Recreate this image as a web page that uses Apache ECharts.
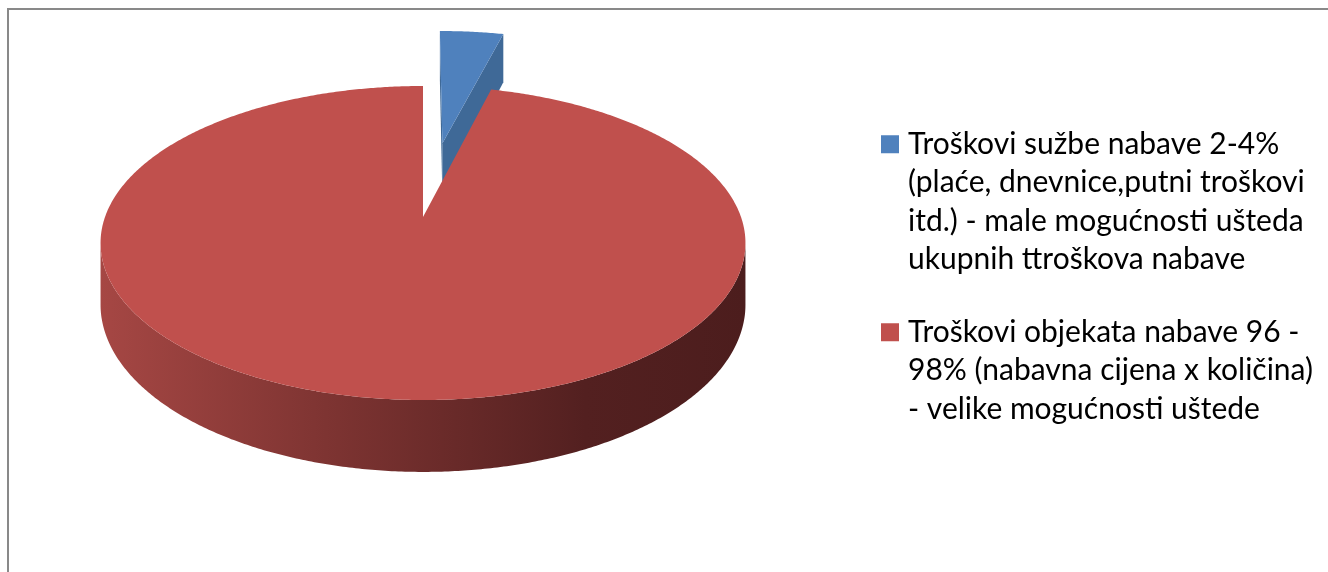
<!DOCTYPE html>
<html>
<head>
<meta charset="utf-8">
<title>Troškovi nabave</title>
<script src="https://cdn.jsdelivr.net/npm/echarts@6/dist/echarts.min.js"></script>
<style>
  html, body { margin: 0; padding: 0; background: #fff; }
  #main { width: 1328px; height: 572px; }
</style>
</head>
<body>
<div id="main"></div>
<script>
// podaci
var categories = [
  'Troškovi sužbe nabave 2-4% (plaće, dnevnice,putni troškovi itd.) - male mogućnosti ušteda ukupnih ttroškova nabave',
  'Troškovi objekata nabave 96 - 98% (nabavna cijena x količina) - velike mogućnosti uštede'
];
var legendLines = [
  ['Troškovi sužbe nabave 2-4%', '(plaće, dnevnice,putni troškovi', 'itd.) - male mogućnosti ušteda', 'ukupnih ttroškova nabave'],
  ['Troškovi objekata nabave 96 -', '98% (nabavna cijena x količina)', '- velike mogućnosti uštede']
];
var values = [4, 96];

var chart = echarts.init(document.getElementById('main'));

// izgled 3D kolača (perspektiva)
var CX = 423, CY = 217, RX = 318, RY = 152.7, K = 0.1656, DEPTH = 60;
var VIEW = 1 / K;
var LH = 38.5;   // visina retka legende
var MARK = 18;   // veličina kvadratića legende
var total = values.reduce(function (s, v) { return s + v; }, 0);

var sliceStyles = [
  { top: '#4F81BD', side: '#3F6997', wall: ['#4A78AE', '#2B4768'], explode: 0.53 },
  { top: '#C0504D', side: '#8E3A38', wall: ['#A64744', '#4C1D1D'], explode: 0 }
];

function project(u, v, down) {
  var s = 1 / (1 - K * v);
  return [CX + RX * u * s, CY + (RY * v + DEPTH * down) * s];
}

function makeRender(i) {
  return function (params, api) {
    var st = sliceStyles[i];
    var before = 0;
    for (var j = 0; j < i; j++) before += values[j];
    var a0 = before / total * Math.PI * 2;
    var a1 = (before + api.value(0)) / total * Math.PI * 2;
    var mid = (a0 + a1) / 2;
    var ox = st.explode * Math.sin(mid), oy = -st.explode * Math.cos(mid);
    function pt(r, a, down) {
      return project(ox + r * Math.sin(a), oy - r * Math.cos(a), down);
    }
    var children = [];

    // bocne plohe reza
    [[a0, -1], [a1, 1]].forEach(function (f) {
      var a = f[0];
      var nx = f[1] * Math.cos(a), nv = f[1] * Math.sin(a);
      if (nx * (-ox) + nv * (VIEW - oy) > 0.02) {
        children.push({
          type: 'polygon',
          shape: { points: [pt(0, a, 0), pt(1, a, 0), pt(1, a, 1), pt(0, a, 1)] },
          style: { fill: st.side }
        });
      }
    });

    // vanjski zid
    var steps = Math.max(2, Math.ceil((a1 - a0) / (Math.PI / 360)));
    var run = [];
    function flush() {
      if (run.length > 1) {
        var pts = run.map(function (a) { return pt(1, a, 0); });
        for (var q = run.length - 1; q >= 0; q--) pts.push(pt(1, run[q], 1));
        children.push({
          type: 'polygon',
          shape: { points: pts },
          style: {
            fill: new echarts.graphic.LinearGradient(CX - RX * 1.02, 0, CX + RX * 1.02, 0, [
              { offset: 0, color: st.wall[0] },
              { offset: 0.35, color: echarts.color.lerp(0.45, st.wall) },
              { offset: 0.75, color: echarts.color.lerp(0.92, st.wall) },
              { offset: 1, color: st.wall[1] }
            ], true)
          }
        });
      }
      run = [];
    }
    for (var s = 0; s <= steps; s++) {
      var a = a0 + (a1 - a0) * s / steps;
      var vis = -1 - ox * Math.sin(a) - (VIEW - oy) * Math.cos(a) > 0;
      if (vis) run.push(a); else flush();
    }
    flush();

    // gornja ploha
    var topPts = [pt(0, a0, 0)];
    for (s = 0; s <= steps; s++) topPts.push(pt(1, a0 + (a1 - a0) * s / steps, 0));
    children.push({ type: 'polygon', shape: { points: topPts }, style: { fill: st.top } });

    return { type: 'group', children: children };
  };
}

// kvadratić poravnat s prvim retkom teksta (visina ikone = visina bloka teksta)
function legendIcon(lines) {
  var h = lines * LH;
  var scale = MARK / 10;
  var y0 = (LH / 2 - MARK / 2) / scale;
  return 'path://M0,0 M0,' + y0 + 'H10V' + (y0 + 10) + 'H0Z M0,' + (h / scale);
}

var legendTops = [125, 313];

var option = {
  backgroundColor: '#fff',
  animation: false,
  color: ['#4F81BD', '#C0504D'],
  graphic: [{
    type: 'rect',
    shape: { x: 8, y: 9, width: 1400, height: 700 },
    style: { fill: 'none', stroke: '#898989', lineWidth: 2 },
    silent: true
  }],
  legend: categories.map(function (name, i) {
    return {
      data: [name],
      orient: 'vertical',
      left: 881,
      top: legendTops[i],
      padding: 0,
      icon: legendIcon(legendLines[i].length),
      symbolKeepAspect: true,
      itemWidth: 26,
      itemHeight: legendLines[i].length * LH,
      selectedMode: false,
      textStyle: { fontFamily: 'Lato', fontSize: 30, lineHeight: LH, color: '#000' },
      formatter: function (n) { return legendLines[categories.indexOf(n)].join('\n'); }
    };
  }),
  series: categories.map(function (name, i) {
    return {
      type: 'custom',
      name: name,
      coordinateSystem: 'none',
      renderItem: makeRender(i),
      itemStyle: { color: sliceStyles[i].top },
      silent: true,
      data: [[values[i]]]
    };
  })
};

chart.setOption(option);
</script>
</body>
</html>
